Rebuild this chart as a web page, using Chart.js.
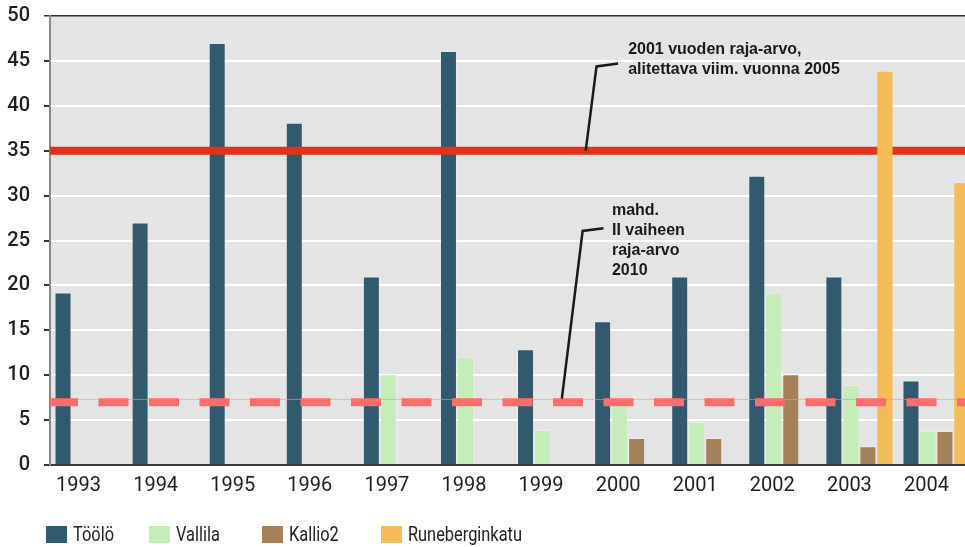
<!DOCTYPE html>
<html>
<head>
<meta charset="utf-8">
<script src="https://cdn.jsdelivr.net/npm/chart.js@4.4.1/dist/chart.umd.min.js"></script>
<style>
  html, body { margin: 0; padding: 0; background: #fff; overflow: hidden; }
  #wrap { position: relative; width: 985px; height: 547px; }
  #legend .item { position: absolute; top: 526px; height: 17px; display: flex; align-items: center; }
  #legend .box { width: 21px; height: 17px; flex: none; }
  #legend .lbl { font-family: Roboto, sans-serif; font-size: 19.5px; color: #222; margin-left: 6px;
                 transform: scaleX(0.84); transform-origin: left center; white-space: nowrap; }
</style>
</head>
<body>
<div id="wrap">
  <canvas id="chart"></canvas>
  <div id="legend"></div>
</div>
<script>
// years on the x axis
const years = ['1993', '1994', '1995', '1996', '1997', '1998', '1999', '2000', '2001', '2002', '2003', '2004'];

// measured values per station
const tooloValues    = [19.2, 27, 47, 38.1, 21, 46.1, 12.9, 16, 21, 32.2, 21, 9.4];
const vallilaValues  = [null, null, null, null, 10.1, 12, 3.9, 7, 4.8, 19.1, 8.9, 3.8];
const kallioValues   = [null, null, null, null, null, null, null, 3, 3, 10.1, 2.1, 3.8];
const runebergValues = [null, null, null, null, null, null, null, null, null, null, 43.9, 31.5];

const seriesNames  = ['Töölö', 'Vallila', 'Kallio2', 'Runeberginkatu'];
const seriesColors = ['#325a6e', '#c5edb7', '#a5805a', '#f5bc5a'];
const seriesValues = [tooloValues, vallilaValues, kallioValues, runebergValues];

// limit values
const limit2005 = 35;
const limit2010 = 7;
const limit2010Guide = 7.3;

const yTicks = [0, 5, 10, 15, 20, 25, 30, 35, 40, 45, 50];

// callout texts, anchored in (year index, value) units
const callouts = [
  {
    lines: ['2001 vuoden raja-arvo,', 'alitettava viim. vuonna 2005'],
    textAt: [7.0, 45.8],
    leader: [[6.45, 35], [6.59, 44.38], [6.87, 44.72]]
  },
  {
    lines: ['mahd.', 'II vaiheen', 'raja-arvo', '2010'],
    textAt: [6.79, 27.8],
    leader: [[6.14, 7.4], [6.41, 26.07], [6.68, 26.37]]
  }
];

const legendLeft = [46, 149, 262, 381];

const RUNEBERG_INDEX = 3;

const barSets = seriesNames.map((name, i) => ({
  label: name,
  data: seriesValues[i],
  backgroundColor: seriesColors[i],
  borderColor: 'rgba(255, 255, 255, 0.22)',
  borderWidth: 1,
  barPercentage: 1,
  categoryPercentage: 0.882
}));

function hLine(chart, value, color, width, dash) {
  const { ctx, chartArea: a, scales: { y } } = chart;
  const py = y.getPixelForValue(value);
  ctx.save();
  ctx.beginPath();
  ctx.moveTo(a.left, py);
  ctx.lineTo(a.right, py);
  ctx.strokeStyle = color;
  ctx.lineWidth = width;
  ctx.lineCap = 'butt';
  if (dash) { ctx.setLineDash(dash); ctx.lineDashOffset = 2; }
  ctx.stroke();
  ctx.restore();
}

const chartDecor = {
  id: 'chartDecor',
  beforeDraw(chart) {
    const { ctx, chartArea: a } = chart;
    ctx.save();
    ctx.fillStyle = '#e4e4e4';
    ctx.fillRect(a.left, a.top, a.right - a.left, a.bottom - a.top);
    ctx.restore();
  },
  afterDatasetsDraw(chart) {
    const { ctx, scales: { x, y } } = chart;

    // 2005 limit over the bars, Runeberginkatu bars painted back on top of it
    hLine(chart, limit2005, '#e3311b', 8);
    chart.getDatasetMeta(RUNEBERG_INDEX).data.forEach(bar => bar.draw(ctx));

    // possible 2010 limit
    hLine(chart, limit2010Guide, 'rgba(236, 150, 150, 0.6)', 1);
    hLine(chart, limit2010, '#fb6d6d', 8, [30, 20.5]);

    ctx.save();
    callouts.forEach(c => {
      ctx.beginPath();
      c.leader.forEach(([ix, v], k) => {
        const px = x.getPixelForValue(ix), py = y.getPixelForValue(v);
        if (k === 0) ctx.moveTo(px, py); else ctx.lineTo(px, py);
      });
      ctx.strokeStyle = '#1a1a1a';
      ctx.lineWidth = 2.5;
      ctx.stroke();

      ctx.fillStyle = '#1a1a1a';
      ctx.font = 'bold 16px "Liberation Sans", Arial, sans-serif';
      ctx.textBaseline = 'alphabetic';
      const tx = x.getPixelForValue(c.textAt[0]);
      const ty = y.getPixelForValue(c.textAt[1]);
      c.lines.forEach((line, k) => ctx.fillText(line, tx, ty + k * 19.8));
    });
    ctx.restore();
  }
};

const chart = new Chart(document.getElementById('chart'), {
  type: 'bar',
  data: { labels: years, datasets: barSets },
  plugins: [chartDecor],
  options: {
    responsive: true,
    maintainAspectRatio: false,
    animation: false,
    layout: { padding: { top: 16, right: 10, bottom: 48, left: 0 } },
    plugins: { legend: { display: false }, tooltip: { enabled: false } },
    scales: {
      x: {
        grid: { display: false },
        border: { color: '#3a3a3a', width: 2 },
        ticks: { color: '#1e1e1e', font: { family: 'Roboto', size: 20 }, padding: 1, labelOffset: -10 }
      },
      y: {
        min: 0,
        max: 50,
        afterBuildTicks(scale) { scale.ticks = yTicks.map(v => ({ value: v })); },
        afterFit(scale) {
          scale.width = 50;
          scale.paddingTop = 0;
          scale.paddingBottom = 0;
        },
        ticks: { color: '#1e1e1e', font: { family: 'Roboto', size: 20, weight: '500' }, padding: 14 },
        grid: {
          color: c => (c.tick && c.tick.value === 50 ? '#333' : '#ffffff'),
          lineWidth: c => (c.tick && c.tick.value === 50 ? 1.5 : 2),
          tickColor: '#333',
          tickLength: 6
        },
        border: { color: '#888', width: 2 }
      }
    }
  }
});

// legend
const legend = document.getElementById('legend');
seriesNames.forEach((name, i) => {
  const item = document.createElement('div');
  item.className = 'item';
  item.style.left = legendLeft[i] + 'px';
  item.innerHTML = '<span class="box" style="background:' + seriesColors[i] + '"></span><span class="lbl">' + name + '</span>';
  legend.appendChild(item);
});
</script>
</body>
</html>
